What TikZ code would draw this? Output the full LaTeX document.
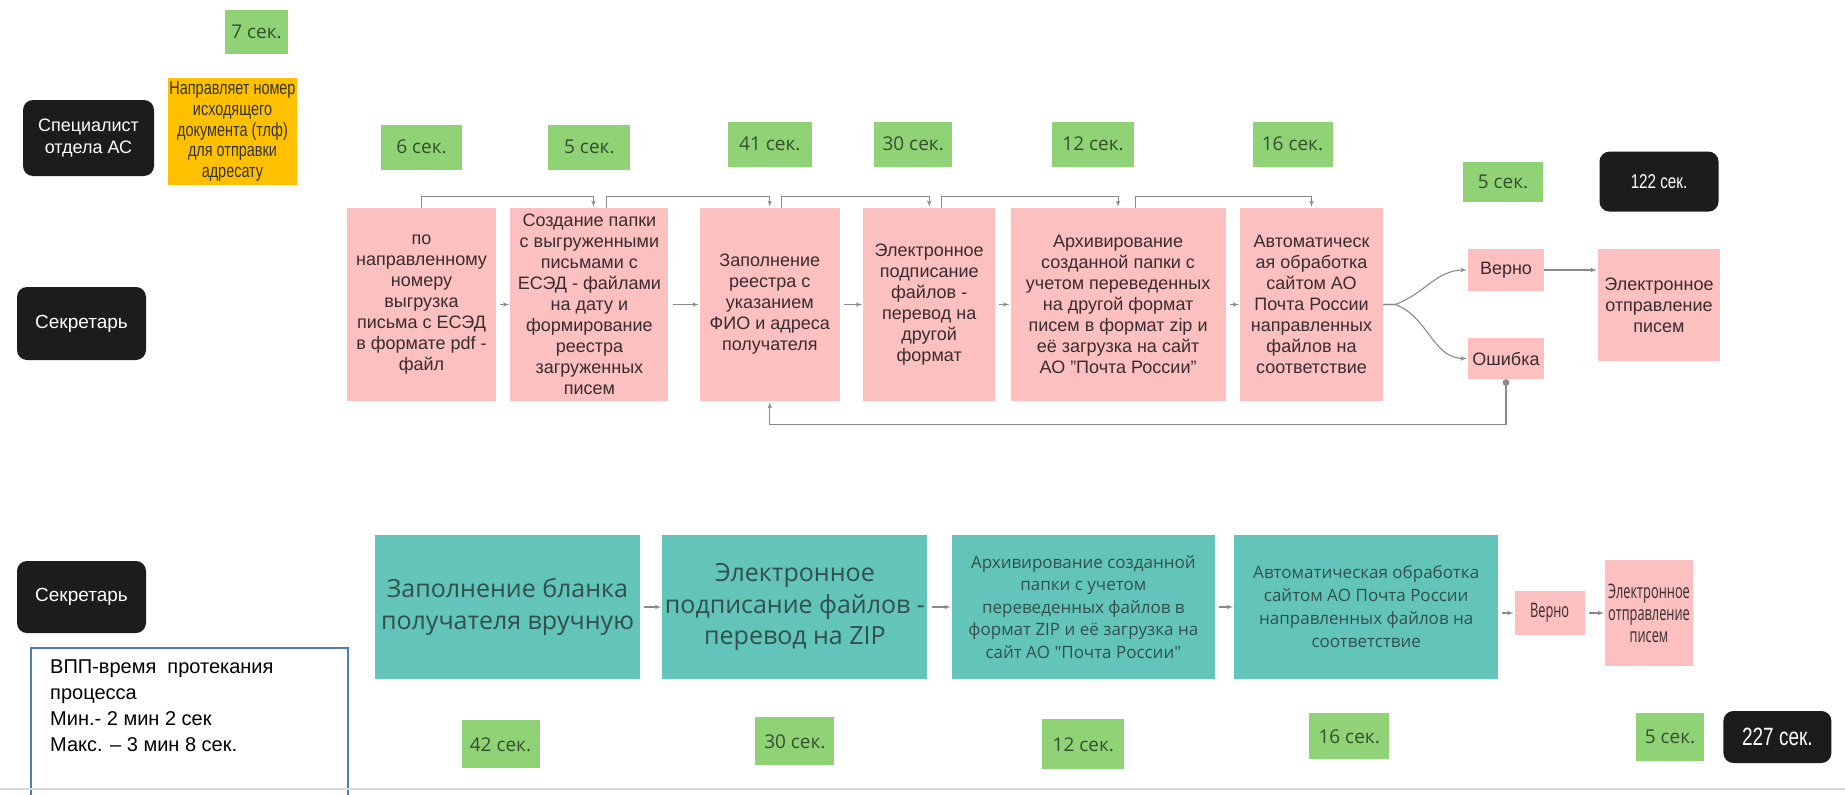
\documentclass[tikz,border=0pt]{standalone}
\usepackage{fontspec}
\setmainfont{Liberation Sans}
\newfontfamily\opensans{Open Sans}
\newfontfamily\opencond[FakeStretch=0.64]{Open Sans}
\newfontfamily\narrowsans[FakeStretch=0.76]{Liberation Sans}
\usetikzlibrary{positioning,arrows}

\definecolor{lanefill}{HTML}{1C1C1C}
\definecolor{pinkfill}{HTML}{FBC0BF}
\definecolor{pinktext}{HTML}{3A2C2E}
\definecolor{greenfill}{HTML}{90D276}
\definecolor{greentext}{HTML}{34502E}
\definecolor{tealfill}{HTML}{63C5B9}
\definecolor{tealtext}{HTML}{31504D}
\definecolor{yellowfill}{HTML}{FFC000}
\definecolor{flowgray}{HTML}{8A8A8A}
\definecolor{noteblue}{HTML}{4F7CB3}

\begin{document}
\begin{tikzpicture}[x=1pt, y=-1pt, >=latex', node distance=14pt,
	lane/.style={fill=lanefill, text=white, rounded corners=10pt, align=center, inner sep=0pt, font=\fontsize{18}{22}\selectfont},
	task/.style={align=center, inner sep=0pt, text=pinktext, font=\fontsize{18}{21}\selectfont},
	pinkbox/.style={task, fill=pinkfill, minimum height=193pt},
	pinkopen/.style={task, fill=pinkfill, font=\opencond\fontsize{20}{22}\selectfont},
	tealbox/.style={task, fill=tealfill, text=tealtext, minimum width=264pt, minimum height=144pt},
	timebox/.style={fill=greenfill, text=greentext, inner sep=0pt, font=\opensans\fontsize{19}{22}\selectfont},
	flow/.style={->, draw=flowgray, line width=1.1pt, shorten >=1pt},
	gap/.style={shorten <=4pt}
]
	\useasboundingbox[fill=white] (0,0) rectangle (1845,795);

	\node[lane, minimum width=131pt, minimum height=76pt] (spec) at (88.5,138) {Специалист\\отдела АС};
	\node[task, fill=yellowfill, text=black!80, minimum width=129pt, minimum height=107pt, font=\narrowsans\fontsize{19}{20.6}\selectfont] (send) at (232.5,131.5) {Направляет номер\\исходящего\\документа (тлф)\\для отправки\\адресату};
	\node[timebox, minimum width=63pt, minimum height=44pt] (s0) at (256.5,32) {7 сек.};

	\node[lane, minimum width=129pt, minimum height=73pt, font=\fontsize{19}{22}\selectfont] (sec1) at (81.5,323.5) {Секретарь};
	\node[pinkbox, minimum width=149pt] (b1) at (421.5,304.5) {по\\направленному\\номеру\\выгрузка\\письма с ЕСЭД\\в формате pdf -\\файл};
	\node[pinkbox, minimum width=158pt, right=14pt of b1] (b2) {Создание папки\\с выгруженными\\письмами с\\ЕСЭД - файлами\\на дату и\\формирование\\реестра\\загруженных\\писем};
	\node[pinkbox, minimum width=140pt, right=31pt of b2] (b3) {Заполнение\\реестра с\\указанием\\ФИО и адреса\\получателя};
	\node[pinkbox, minimum width=132pt, right=23pt of b3] (b4) {Электронное\\подписание\\файлов -\\перевод на\\другой\\формат};
	\node[pinkbox, minimum width=215pt, right=15pt of b4] (b5) {Архивирование\\созданной папки с\\учетом переведенных\\на другой формат\\писем в формат zip и\\её загрузка  на сайт\\АО "Почта России"};
	\node[pinkbox, minimum width=143pt, right=14pt of b5] (b6) {Автоматическ\\ая обработка\\сайтом АО\\Почта России\\направленных\\файлов на\\соответствие};
	\node[pinkbox, minimum width=76pt, minimum height=42pt] (v1) at (1506,270) {Верно};
	\node[pinkbox, minimum width=76pt, minimum height=41pt] (o1) at (1506,358.5) {Ошибка};
	\node[pinkbox, minimum width=122pt, minimum height=112pt] (e1) at (1659,305) {Электронное\\отправление\\писем};

	\node[timebox, minimum width=81pt, minimum height=45pt, above=38pt of b1] (s1) {6 сек.};
	\node[timebox, minimum width=82pt, minimum height=45pt, above=38pt of b2] (s2) {5 сек.};
	\node[timebox, minimum width=84pt, minimum height=45pt, above=41pt of b3] (s3) {41 сек.};
	\node[timebox, minimum width=78pt, minimum height=45pt, above=41pt of b4, xshift=-16pt] (s4) {30 сек.};
	\node[timebox, minimum width=82pt, minimum height=45pt, above=41pt of b5, xshift=-25pt] (s5) {12 сек.};
	\node[timebox, minimum width=80pt, minimum height=45pt, above=41pt of b6, xshift=-19pt] (s6) {16 сек.};
	\node[timebox, minimum width=80pt, minimum height=40pt, above=47pt of v1, xshift=-3pt] (s7) {5 сек.};
	\node[lane, minimum width=119pt, minimum height=60pt, font=\narrowsans\fontsize{20}{22}\selectfont, above=37pt of e1] (total1) {122 сек.};

	\node[lane, minimum width=129pt, minimum height=72pt, font=\fontsize{19}{22}\selectfont] (sec2) at (81.5,597) {Секретарь};
	\node[tealbox, minimum width=265pt, font=\opensans\fontsize{25}{32}\selectfont] (t1) at (507.5,607) {Заполнение бланка\\получателя вручную};
	\node[tealbox, minimum width=265pt, font=\opensans\fontsize{25}{31.5}\selectfont, right=22pt of t1] (t2) {Электронное\\подписание файлов -\\перевод на ZIP};
	\node[tealbox, minimum width=263pt, font=\opensans\fontsize{17}{22.5}\selectfont, right=24pt of t2] (t3) {Архивирование созданной\\папки с учетом\\переведенных файлов в\\формат ZIP и её загрузка на\\сайт АО "Почта России"};
	\node[tealbox, font=\opensans\fontsize{17}{23}\selectfont, right=19pt of t3] (t4) {Автоматическая обработка\\сайтом АО Почта России\\направленных файлов на\\соответствие};
	\node[pinkopen, minimum width=70pt, minimum height=44pt, right=16pt of t4, yshift=-6pt] (v2) {Верно};
	\node[pinkopen, minimum width=88pt, minimum height=106pt, right=20pt of v2] (e2) {Электронное\\отправление\\писем};

	\node[timebox, minimum width=78pt, minimum height=48pt, below=41pt of t1, xshift=-7pt] (u1) {42 сек.};
	\node[timebox, minimum width=79pt, minimum height=48pt, below=38pt of t2] (u2) {30 сек.};
	\node[timebox, minimum width=82pt, minimum height=50pt, below=40pt of t3] (u3) {12 сек.};
	\node[timebox, minimum width=80pt, minimum height=46pt, below=34pt of t4, xshift=-17pt] (u4) {16 сек.};
	\node[timebox, minimum width=68pt, minimum height=48pt] (u5) at (1670,737) {5 сек.};
	\node[lane, minimum width=108pt, minimum height=52pt, font=\narrowsans\fontsize{25}{27}\selectfont, right=19pt of u5] (total2) {227 сек.};

	\draw[noteblue, line width=1.8pt] (31,800) |- (348,648) -- (348,800);
	\node[anchor=north west, align=left, inner sep=0pt, font=\fontsize{20}{25.7}\selectfont] (note) at (50,660) {ВПП-время\hspace{0.55em}протекания\\процесса\\Мин.- 2 мин 2 сек\\Макс. – 3 мин 8 сек.};
	\draw[black!15, line width=1.5pt] (0,789) -- (1845,789);

	\draw[flow] (b1.north) -- ++(0,-11) -| ([xshift=4pt]b2.north);
	\draw[flow] ([xshift=17pt]b2.north) -- ++(0,-11) -| (b3.north);
	\draw[flow] ([xshift=12pt]b3.north) -- ++(0,-11) -| (b4.north);
	\draw[flow] ([xshift=12pt]b4.north) -- ++(0,-11) -| (b5.north);
	\draw[flow] ([xshift=17pt]b5.north) -- ++(0,-11) -| (b6.north);

	\draw[flow, gap] (b1) -- (b2);
	\draw[flow, gap] (b2) -- (b3);
	\draw[flow, gap] (b3) -- (b4);
	\draw[flow, gap] (b4) -- (b5);
	\draw[flow, gap] (b5) -- (b6);
	\draw[flow] (b6.east) -- ++(12,0) to[out=20,in=180] (v1.west);
	\draw[flow] (b6.east) -- ++(12,0) to[out=-20,in=180] (o1.west);
	\draw[flow] (v1.east) -- (v1.east -| e1.west);
	\draw[flow, *->] (o1.south) -- ++(0,45) -| (b3.south);

	\draw[flow, gap] (t1) -- (t2);
	\draw[flow, gap] (t2) -- (t3);
	\draw[flow, gap] (t3) -- (t4);
	\draw[flow, gap] (t4.east |- v2.west) -- (v2.west);
	\draw[flow, gap] (v2.east) -- (v2.east -| e2.west);
\end{tikzpicture}
\end{document}
